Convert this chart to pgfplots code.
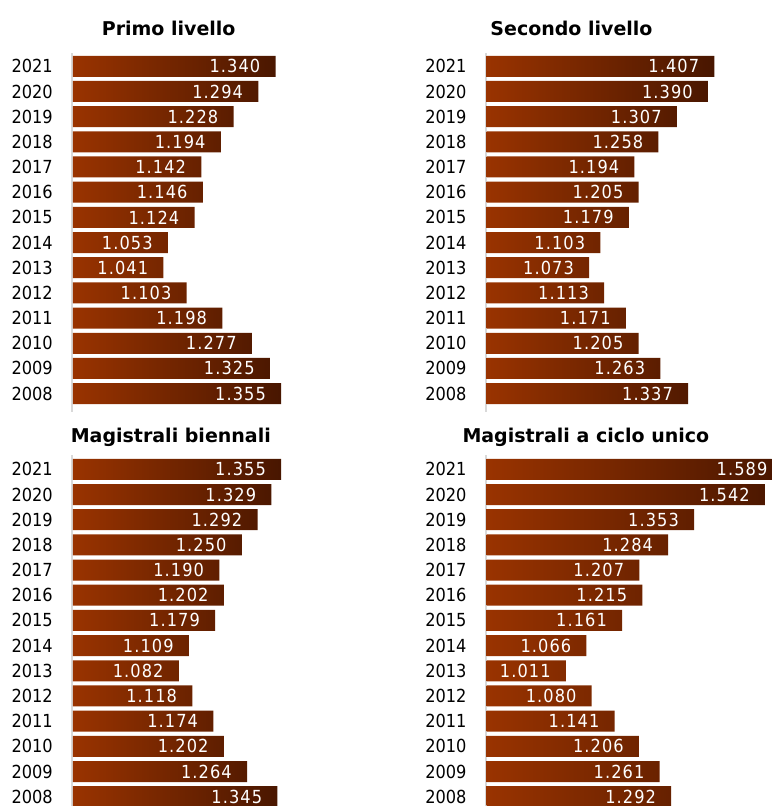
\documentclass[border=0pt]{standalone}
\usepackage{fontspec}
\setmainfont{DejaVu Sans}
\newfontfamily\narrowfont{DejaVu Sans}[FakeStretch=0.9]
\newfontfamily\valfont{DejaVu Sans}[FakeStretch=0.9, LetterSpace=6]
\usepackage{pgfplots}
\usepackage{pgfplotstable}
\pgfplotsset{compat=1.18}

\definecolor{barL}{RGB}{153,51,0}
\definecolor{barR}{RGB}{72,22,0}
\definecolor{axgray}{RGB}{217,217,217}

\pgfplotstableread{
year v
2021 1.340
2020 1.294
2019 1.228
2018 1.194
2017 1.142
2016 1.146
2015 1.124
2014 1.053
2013 1.041
2012 1.103
2011 1.198
2010 1.277
2009 1.325
2008 1.355
}\primo

\pgfplotstableread{
year v
2021 1.407
2020 1.390
2019 1.307
2018 1.258
2017 1.194
2016 1.205
2015 1.179
2014 1.103
2013 1.073
2012 1.113
2011 1.171
2010 1.205
2009 1.263
2008 1.337
}\secondo

\pgfplotstableread{
year v
2021 1.355
2020 1.329
2019 1.292
2018 1.250
2017 1.190
2016 1.202
2015 1.179
2014 1.109
2013 1.082
2012 1.118
2011 1.174
2010 1.202
2009 1.264
2008 1.345
}\biennali

\pgfplotstableread{
year v
2021 1.589
2020 1.542
2019 1.353
2018 1.284
2017 1.207
2016 1.215
2015 1.161
2014 1.066
2013 1.011
2012 1.080
2011 1.141
2010 1.206
2009 1.261
2008 1.292
}\ciclo

\pgfplotsset{
  panel/.style={
    x=375pt, y=25.18pt, xmin=0, xmax=0.79,
    anchor=south west,
    axis x line=none, axis y line=left,
    axis line style={-, draw=axgray, line width=2pt, xshift=-1pt},
    ytick={2008,...,2021}, major tick length=0pt,
    yticklabel style={font=\narrowfont\fontsize{18}{20}\selectfont,
      /pgf/number format/1000 sep={},
      /pgf/number format/assume math mode=true,
      inner sep=0pt, xshift=-20pt},
  },
  labels/.style={
    point meta=explicit symbolic,
    nodes near coords,
    nodes near coords align={anchor=east},
    every node near coord/.append style={font=\valfont\fontsize{18}{20}\selectfont,
      text=white, inner sep=0pt, xshift=-15pt},
  },
  bars/.style={
    xbar, bar width=0.834, draw=none,
    left color=barL, right color=barR,
  },
}

\begin{document}
\begin{tikzpicture}
\useasboundingbox (0pt,0pt) rectangle (779pt,806pt);

\tikzset{ttl/.style={anchor=base, font=\bfseries\fontsize{19}{22}\selectfont}}
\node[ttl] at (168.7pt,770.3pt) {Primo livello};
\node[ttl] at (571.5pt,770.5pt) {Secondo livello};
\node[ttl] at (170.8pt,363.3pt) {Magistrali biennali};
\node[ttl] at (585.8pt,363.3pt) {Magistrali a ciclo unico};

\begin{axis}[panel, at={(73pt,394pt)}, ymin=2007.27, ymax=2021.52]
  \addplot[bars, labels] table[x expr=\thisrow{v}-0.8, y=year, meta=v] {\primo};
\end{axis}

\begin{axis}[panel, at={(486.7pt,394pt)}, ymin=2007.27, ymax=2021.52]
  \addplot[bars, labels] table[x expr=\thisrow{v}-0.8, y=year, meta=v] {\secondo};
\end{axis}

\begin{axis}[panel, at={(73pt,0pt)}, ymin=2007.63, ymax=2021.576]
  \addplot[bars, labels] table[x expr=\thisrow{v}-0.8, y=year, meta=v] {\biennali};
\end{axis}

% bars clipped at the panel's right edge
\begin{axis}[panel, at={(486.7pt,0pt)}, ymin=2007.63, ymax=2021.576, xmax=0.76]
  \addplot[bars] table[x expr=\thisrow{v}-0.8, y=year, meta=v] {\ciclo};
\end{axis}
% value labels for the same panel
\begin{axis}[panel, at={(486.7pt,0pt)}, ymin=2007.63, ymax=2021.576, xmax=0.8,
  hide axis]
  \addplot[xbar, bar width=0.834, draw=none, fill=none, labels]
    table[x expr=\thisrow{v}-0.8, y=year, meta=v] {\ciclo};
\end{axis}
\end{tikzpicture}
\end{document}
